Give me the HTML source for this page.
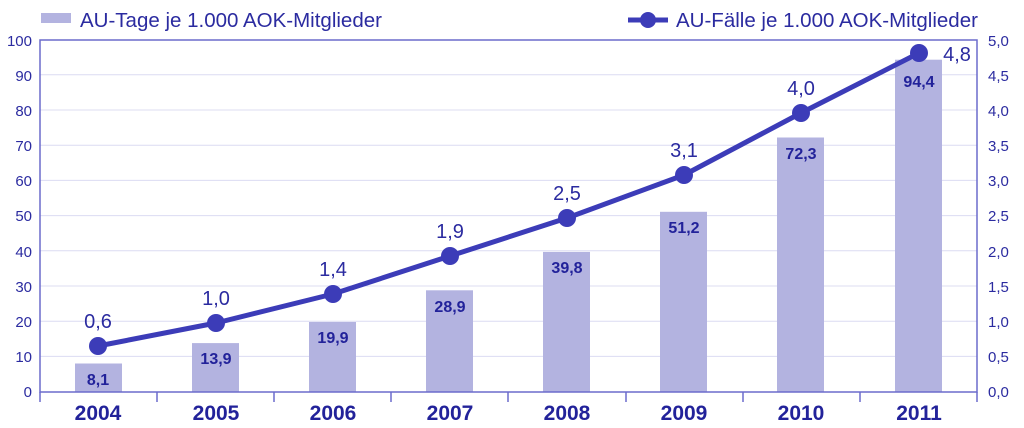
<!DOCTYPE html>
<html><head><meta charset="utf-8"><style>
html,body{margin:0;padding:0;background:#fff;}
svg{display:block;font-family:"Liberation Sans",Arial,sans-serif;}
</style></head><body>
<svg width="1024" height="428" viewBox="0 0 1024 428" xmlns="http://www.w3.org/2000/svg">
<!-- legend -->
<rect x="41" y="13" width="30" height="10" fill="#b3b3e0"/>
<text x="80" y="27" font-size="20.5" fill="#2b2ba0">AU-Tage je 1.000 AOK-Mitglieder</text>
<line x1="628" y1="20" x2="668" y2="20" stroke="#3c3cb8" stroke-width="5"/>
<circle cx="648" cy="20" r="8" fill="#3c3cb8"/>
<text x="676" y="27" font-size="20.5" fill="#2b2ba0">AU-Fälle je 1.000 AOK-Mitglieder</text>
<!-- gridlines -->
<g stroke="#dcdcf2" stroke-width="1">
<line x1="40" x2="977" y1="74.8" y2="74.8"/><line x1="40" x2="977" y1="110" y2="110"/>
<line x1="40" x2="977" y1="145.2" y2="145.2"/><line x1="40" x2="977" y1="180.4" y2="180.4"/>
<line x1="40" x2="977" y1="215.6" y2="215.6"/><line x1="40" x2="977" y1="250.8" y2="250.8"/>
<line x1="40" x2="977" y1="286" y2="286"/><line x1="40" x2="977" y1="321.2" y2="321.2"/>
<line x1="40" x2="977" y1="356.4" y2="356.4"/>
</g>
<!-- bars -->
<g fill="#b3b3e0">
<rect x="75" y="363.5" width="47" height="28.5"/>
<rect x="192" y="343.1" width="47" height="48.9"/>
<rect x="309" y="322" width="47" height="70"/>
<rect x="426" y="290.3" width="47" height="101.7"/>
<rect x="543" y="251.9" width="47" height="140.1"/>
<rect x="660" y="211.8" width="47" height="180.2"/>
<rect x="777" y="137.5" width="47" height="254.5"/>
<rect x="895" y="59.7" width="47" height="332.3"/>
</g>
<!-- axes frame -->
<rect x="40" y="40" width="937" height="352" fill="none" stroke="#6b6bcc" stroke-width="1.5"/>
<g stroke="#6b6bcc" stroke-width="1.5">
<line x1="40" y1="392" x2="40" y2="402"/><line x1="157" y1="392" x2="157" y2="402"/>
<line x1="274" y1="392" x2="274" y2="402"/><line x1="391" y1="392" x2="391" y2="402"/>
<line x1="508" y1="392" x2="508" y2="402"/><line x1="626" y1="392" x2="626" y2="402"/>
<line x1="743" y1="392" x2="743" y2="402"/><line x1="860" y1="392" x2="860" y2="402"/>
<line x1="977" y1="392" x2="977" y2="402"/>
</g>
<!-- left ticks -->
<g font-size="15" fill="#2b2ba0" text-anchor="end">
<text x="32" y="46">100</text><text x="32" y="81">90</text><text x="32" y="116">80</text>
<text x="32" y="151">70</text><text x="32" y="186">60</text><text x="32" y="221">50</text>
<text x="32" y="257">40</text><text x="32" y="292">30</text><text x="32" y="327">20</text>
<text x="32" y="362">10</text><text x="32" y="397">0</text>
</g>
<g font-size="15" fill="#2b2ba0">
<text x="988" y="46">5,0</text><text x="988" y="81">4,5</text><text x="988" y="116">4,0</text>
<text x="988" y="151">3,5</text><text x="988" y="186">3,0</text><text x="988" y="221">2,5</text>
<text x="988" y="257">2,0</text><text x="988" y="292">1,5</text><text x="988" y="327">1,0</text>
<text x="988" y="362">0,5</text><text x="988" y="397">0,0</text>
</g>
<!-- years -->
<g font-size="21" font-weight="bold" fill="#22229a" text-anchor="middle">
<text x="98" y="420">2004</text><text x="216" y="420">2005</text><text x="333" y="420">2006</text>
<text x="450" y="420">2007</text><text x="567" y="420">2008</text><text x="684" y="420">2009</text>
<text x="801" y="420">2010</text><text x="919" y="420">2011</text>
</g>
<!-- bar labels -->
<g font-size="16" font-weight="bold" fill="#22229a" text-anchor="middle">
<text x="98" y="385">8,1</text><text x="216" y="364">13,9</text><text x="333" y="343">19,9</text>
<text x="450" y="312">28,9</text><text x="567" y="273">39,8</text><text x="684" y="233">51,2</text>
<text x="801" y="159">72,3</text><text x="919" y="87">94,4</text>
</g>
<!-- line -->
<polyline points="98,346 216,323 333,294 450,256 567,218 684,175 801,113 919,53" fill="none" stroke="#3c3cb8" stroke-width="5" stroke-linejoin="round"/>
<g fill="#3c3cb8">
<circle cx="98" cy="346" r="9"/><circle cx="216" cy="323" r="9"/><circle cx="333" cy="294" r="9"/>
<circle cx="450" cy="256" r="9"/><circle cx="567" cy="218" r="9"/><circle cx="684" cy="175" r="9"/>
<circle cx="801" cy="113" r="9"/><circle cx="919" cy="53" r="9"/>
</g>
<g font-size="20" fill="#2b2ba0" text-anchor="middle">
<text x="98" y="328">0,6</text><text x="216" y="305">1,0</text><text x="333" y="276">1,4</text>
<text x="450" y="238">1,9</text><text x="567" y="200">2,5</text><text x="684" y="157">3,1</text>
<text x="801" y="95">4,0</text><text x="957" y="61">4,8</text>
</g>
</svg>
</body></html>
